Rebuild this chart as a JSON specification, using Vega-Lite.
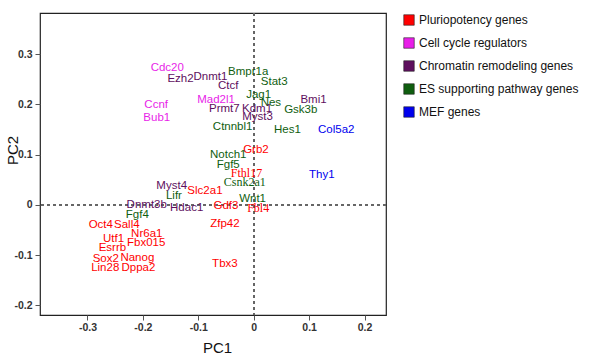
{
  "$schema": "https://vega.github.io/schema/vega-lite/v6.json",
  "width": 346,
  "height": 302,
  "autosize": {"type": "none"},
  "padding": {"left": 40, "top": 13, "right": 204, "bottom": 45},
  "background": "white",
  "config": {
    "view": {"stroke": "#222", "strokeWidth": 1.2},
    "font": "Liberation Sans",
    "axis": {"grid": false, "domain": false, "tickColor": "#555", "tickSize": 5, "labelFont": "Liberation Sans", "labelFontSize": 10.5, "labelFontWeight": "bold", "labelColor": "#333", "titleFont": "Liberation Sans", "titleFontSize": 15, "titleFontWeight": "normal", "titleColor": "#111"}
  },
  "data": {"values": [
    {"gene": "Cdc20", "pc1": -0.156, "pc2": 0.272, "group": "Cell cycle regulators"},
    {"gene": "Ezh2", "pc1": -0.132, "pc2": 0.251, "group": "Chromatin remodeling genes"},
    {"gene": "Dnmt1", "pc1": -0.078, "pc2": 0.254, "group": "Chromatin remodeling genes"},
    {"gene": "Ctcf", "pc1": -0.046, "pc2": 0.236, "group": "Chromatin remodeling genes"},
    {"gene": "Bmpr1a", "pc1": -0.010, "pc2": 0.264, "group": "ES supporting pathway genes"},
    {"gene": "Stat3", "pc1": 0.037, "pc2": 0.244, "group": "ES supporting pathway genes"},
    {"gene": "Jag1", "pc1": 0.009, "pc2": 0.219, "group": "ES supporting pathway genes"},
    {"gene": "Nes", "pc1": 0.031, "pc2": 0.203, "group": "ES supporting pathway genes"},
    {"gene": "Bmi1", "pc1": 0.108, "pc2": 0.208, "group": "Chromatin remodeling genes"},
    {"gene": "Gsk3b", "pc1": 0.085, "pc2": 0.189, "group": "ES supporting pathway genes"},
    {"gene": "Mad2l1", "pc1": -0.068, "pc2": 0.208, "group": "Cell cycle regulators"},
    {"gene": "Prmt7", "pc1": -0.053, "pc2": 0.190, "group": "Chromatin remodeling genes"},
    {"gene": "Kdm1", "pc1": 0.006, "pc2": 0.190, "group": "Chromatin remodeling genes"},
    {"gene": "Myst3", "pc1": 0.007, "pc2": 0.174, "group": "Chromatin remodeling genes"},
    {"gene": "Ctnnbl1", "pc1": -0.038, "pc2": 0.155, "group": "ES supporting pathway genes"},
    {"gene": "Hes1", "pc1": 0.061, "pc2": 0.148, "group": "ES supporting pathway genes"},
    {"gene": "Col5a2", "pc1": 0.149, "pc2": 0.148, "group": "MEF genes"},
    {"gene": "Ccnf", "pc1": -0.176, "pc2": 0.198, "group": "Cell cycle regulators"},
    {"gene": "Bub1", "pc1": -0.175, "pc2": 0.173, "group": "Cell cycle regulators"},
    {"gene": "Grb2", "pc1": 0.004, "pc2": 0.109, "group": "Pluriopotency genes"},
    {"gene": "Notch1", "pc1": -0.046, "pc2": 0.100, "group": "ES supporting pathway genes"},
    {"gene": "Fgf5", "pc1": -0.046, "pc2": 0.080, "group": "ES supporting pathway genes"},
    {"gene": "Fthl17", "pc1": -0.013, "pc2": 0.064, "group": "Pluriopotency genes"},
    {"gene": "Csnk2a1", "pc1": -0.016, "pc2": 0.046, "group": "ES supporting pathway genes"},
    {"gene": "Thy1", "pc1": 0.123, "pc2": 0.060, "group": "MEF genes"},
    {"gene": "Slc2a1", "pc1": -0.088, "pc2": 0.028, "group": "Pluriopotency genes"},
    {"gene": "Myst4", "pc1": -0.148, "pc2": 0.037, "group": "Chromatin remodeling genes"},
    {"gene": "Lifr", "pc1": -0.144, "pc2": 0.018, "group": "ES supporting pathway genes"},
    {"gene": "Dnmt3b", "pc1": -0.193, "pc2": -0.001, "group": "Chromatin remodeling genes"},
    {"gene": "Hdac1", "pc1": -0.121, "pc2": -0.006, "group": "Chromatin remodeling genes"},
    {"gene": "Wnt1", "pc1": -0.002, "pc2": 0.011, "group": "ES supporting pathway genes"},
    {"gene": "Gdf3", "pc1": -0.050, "pc2": -0.003, "group": "Pluriopotency genes"},
    {"gene": "Fbl4", "pc1": 0.008, "pc2": -0.007, "group": "Pluriopotency genes"},
    {"gene": "Fgf4", "pc1": -0.210, "pc2": -0.021, "group": "ES supporting pathway genes"},
    {"gene": "Oct4", "pc1": -0.276, "pc2": -0.041, "group": "Pluriopotency genes"},
    {"gene": "Sall4", "pc1": -0.229, "pc2": -0.041, "group": "Pluriopotency genes"},
    {"gene": "Nr6a1", "pc1": -0.193, "pc2": -0.059, "group": "Pluriopotency genes"},
    {"gene": "Utf1", "pc1": -0.253, "pc2": -0.068, "group": "Pluriopotency genes"},
    {"gene": "Fbx015", "pc1": -0.194, "pc2": -0.077, "group": "Pluriopotency genes"},
    {"gene": "Esrrb", "pc1": -0.255, "pc2": -0.087, "group": "Pluriopotency genes"},
    {"gene": "Sox2", "pc1": -0.267, "pc2": -0.107, "group": "Pluriopotency genes"},
    {"gene": "Nanog", "pc1": -0.210, "pc2": -0.105, "group": "Pluriopotency genes"},
    {"gene": "Lin28", "pc1": -0.268, "pc2": -0.125, "group": "Pluriopotency genes"},
    {"gene": "Dppa2", "pc1": -0.208, "pc2": -0.125, "group": "Pluriopotency genes"},
    {"gene": "Zfp42", "pc1": -0.052, "pc2": -0.039, "group": "Pluriopotency genes"},
    {"gene": "Tbx3", "pc1": -0.052, "pc2": -0.117, "group": "Pluriopotency genes"}
  ]},
  "encoding": {
    "x": {"field": "pc1", "type": "quantitative", "scale": {"domain": [-0.3857, 0.2388], "nice": false, "zero": false},
      "axis": {"title": "PC1", "values": [-0.3, -0.2, -0.1, 0, 0.1, 0.2], "labelExpr": "'' + datum.value", "labelPadding": 2, "titleX": 177, "titleY": 32, "titleBaseline": "middle", "titleAlign": "center"}},
    "y": {"field": "pc2", "type": "quantitative", "scale": {"domain": [-0.2195, 0.382], "nice": false, "zero": false},
      "axis": {"title": "PC2", "values": [-0.2, -0.1, 0, 0.1, 0.2, 0.3], "labelExpr": "'' + datum.value", "labelPadding": 3, "titleX": -28, "titleY": 137, "titleAngle": -90, "titleBaseline": "middle", "titleAlign": "center"}}
  },
  "layer": [
    {"mark": {"type": "rule", "color": "#666", "strokeDash": [3, 3], "strokeWidth": 1}, "encoding": {"x": {"datum": 0}, "y": null}},
    {"mark": {"type": "rule", "color": "#666", "strokeDash": [3, 3], "strokeWidth": 1}, "encoding": {"y": {"datum": 0}, "x": null}},
    {
      "transform": [{"filter": "indexof(['Fthl17','Csnk2a1','Fbl4'], datum.gene) < 0"}],
      "mark": {"type": "text", "font": "Liberation Sans", "fontSize": 11.5, "align": "center", "baseline": "middle"},
      "encoding": {
        "text": {"field": "gene"},
        "color": {"field": "group", "type": "nominal",
          "scale": {"domain": ["Pluriopotency genes", "Cell cycle regulators", "Chromatin remodeling genes", "ES supporting pathway genes", "MEF genes"],
                    "range": ["#ff0000", "#e81ee8", "#5e0f5e", "#0f5e0f", "#0000ee"]},
          "legend": {"title": null, "orient": "none", "legendX": 363, "legendY": 1, "symbolType": "square", "symbolSize": 110, "symbolStrokeColor": "#222", "symbolStrokeWidth": 0.6, "symbolOpacity": 1, "labelFont": "Liberation Sans", "labelFontSize": 12, "labelColor": "#111", "rowPadding": 9, "labelOffset": 4, "labelLimit": 300}}
      }
    },
    {
      "transform": [{"filter": "indexof(['Fthl17','Csnk2a1','Fbl4'], datum.gene) >= 0"}],
      "mark": {"type": "text", "font": "Liberation Serif", "fontSize": 12, "align": "center", "baseline": "middle"},
      "encoding": {
        "text": {"field": "gene"},
        "color": {"field": "group", "type": "nominal"}
      }
    }
  ]
}
